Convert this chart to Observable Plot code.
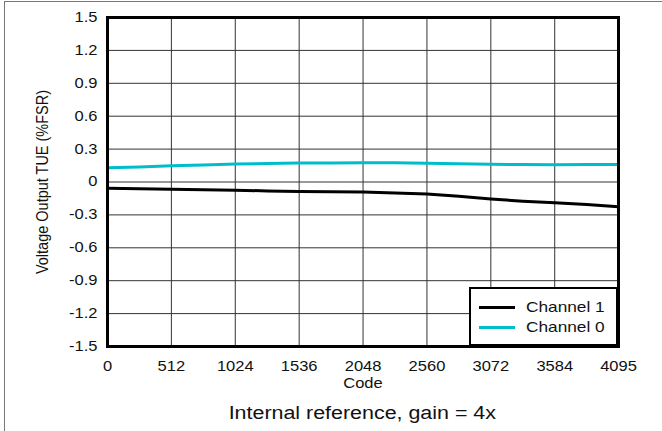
<!DOCTYPE html>
<html>
<head>
<meta charset="utf-8">
<script src="https://cdn.jsdelivr.net/npm/d3@7"></script>
<script src="https://cdn.jsdelivr.net/npm/@observablehq/plot@0.6"></script>
<style>
  body { margin: 0; background: #fff; }
  #wrap { position: relative; width: 662px; height: 431px; overflow: hidden; background: #fff;
          font-family: "Liberation Sans", Arial, sans-serif; }
  #outer { position: absolute; left: 4px; top: 1px; width: 700px; height: 500px;
           border-top: 1px solid #777; border-left: 1px solid #777; }
  #legend { position: absolute; left: 469px; top: 287px; width: 149px; height: 59px; box-sizing: border-box;
            border: 2.5px solid #000; background: #fff; }
  .lrow { position: absolute; left: 0; height: 20px; width: 145px; }
  .lline { position: absolute; left: 8px; width: 36px; height: 3px; top: 9px; }
  .ltext { position: absolute; left: 55px; top: 0; font-size: 15px; line-height: 20px; color: #111;
           transform: scaleX(1.15); transform-origin: left center; white-space: nowrap; }
  #subtitle { position: absolute; left: 107px; width: 511px; top: 402px; text-align: center;
              font-size: 18px; line-height: 22px; color: #111; }
  #subtitle span { display: inline-block; transform: scaleX(1.19); white-space: nowrap; }
</style>
</head>
<body>
<div id="wrap">
  <div id="outer"></div>
  <div id="chart"></div>
  <div id="legend"></div>
  <div id="subtitle"><span></span></div>
</div>
<script>
// ---- data ----
const codes = [0, 256, 512, 768, 1024, 1280, 1536, 1792, 2048, 2304, 2560, 2816, 3072, 3328, 3584, 3840, 4095];
const channel1 = [-0.057, -0.062, -0.066, -0.070, -0.075, -0.081, -0.087, -0.089, -0.092, -0.100, -0.110, -0.130, -0.155, -0.175, -0.190, -0.205, -0.225];
const channel0 = [0.130, 0.136, 0.148, 0.156, 0.163, 0.168, 0.173, 0.174, 0.175, 0.175, 0.172, 0.167, 0.162, 0.159, 0.157, 0.159, 0.160];
const seriesNames = ["Channel 1", "Channel 0"];
const seriesColors = ["#000000", "#00BDCC"];
const xTicks = [0, 512, 1024, 1536, 2048, 2560, 3072, 3584, 4095];
const yTicks = [-1.5, -1.2, -0.9, -0.6, -0.3, 0, 0.3, 0.6, 0.9, 1.2, 1.5];
const xLabel = "Code";
const yLabel = "Voltage Output TUE (%FSR)";
const subtitle = "Internal reference, gain = 4x";

const rows = [];
codes.forEach((c, i) => {
  rows.push({code: c, value: channel1[i], series: seriesNames[0]});
  rows.push({code: c, value: channel0[i], series: seriesNames[1]});
});
const fmtY = d => (Math.round(d * 10) / 10).toFixed(1).replace(/^(-?)0\.0$/, "0").replace("-0.0", "0");

const chart = Plot.plot({
  width: 662,
  height: 398,
  marginTop: 17,
  marginBottom: 52,
  marginLeft: 107,
  marginRight: 44,
  style: {fontFamily: "'Liberation Sans', Arial, sans-serif", fontSize: "14px", color: "#111", background: "transparent"},
  x: {domain: [0, 4095]},
  y: {domain: [-1.5, 1.5]},
  color: {domain: seriesNames, range: seriesColors},
  marks: [
    Plot.ruleX(xTicks, {stroke: "#333", strokeWidth: 1}),
    Plot.ruleY(yTicks, {stroke: "#333", strokeWidth: 1}),
    Plot.axisX(xTicks, {tickSize: 0, tickPadding: 15, label: null, tickFormat: d => String(d), fontSize: 14}),
    Plot.axisY(yTicks, {tickSize: 0, tickPadding: 10, label: null, tickFormat: fmtY, fontSize: 14}),
    Plot.line(rows.filter(d => d.series === seriesNames[1]), {x: "code", y: "value", stroke: "series", strokeWidth: 3}),
    Plot.line(rows.filter(d => d.series === seriesNames[0]), {x: "code", y: "value", stroke: "series", strokeWidth: 3}),
    Plot.frame({stroke: "#000", strokeWidth: 3}),
    Plot.text([xLabel], {frameAnchor: "bottom", dy: 37, lineAnchor: "middle", textAnchor: "middle", fontSize: 14, fill: "#111"}),
    Plot.text([yLabel], {frameAnchor: "left", dx: -65, rotate: -90, textAnchor: "middle", lineAnchor: "middle", fontSize: 14.5, fill: "#111"})
  ]
});
document.getElementById("chart").appendChild(chart);

// horizontal stretch of text to match reference proportions
chart.querySelectorAll("text").forEach(t => {
  const tr = t.getAttribute("transform");
  if (tr) {
    if (tr.includes("rotate")) t.setAttribute("transform", tr + " scale(1,1.15)");
    else t.setAttribute("transform", tr + " scale(1.18,1)");
  }
});

// legend
const legend = document.getElementById("legend");
seriesNames.forEach((name, i) => {
  const row = document.createElement("div");
  row.className = "lrow";
  row.style.top = (8 + i * 20) + "px";
  const line = document.createElement("div");
  line.className = "lline";
  line.style.background = seriesColors[i];
  const txt = document.createElement("div");
  txt.className = "ltext";
  txt.textContent = name;
  row.appendChild(line);
  row.appendChild(txt);
  legend.appendChild(row);
});
document.querySelector("#subtitle span").textContent = subtitle;
</script>
</body>
</html>
